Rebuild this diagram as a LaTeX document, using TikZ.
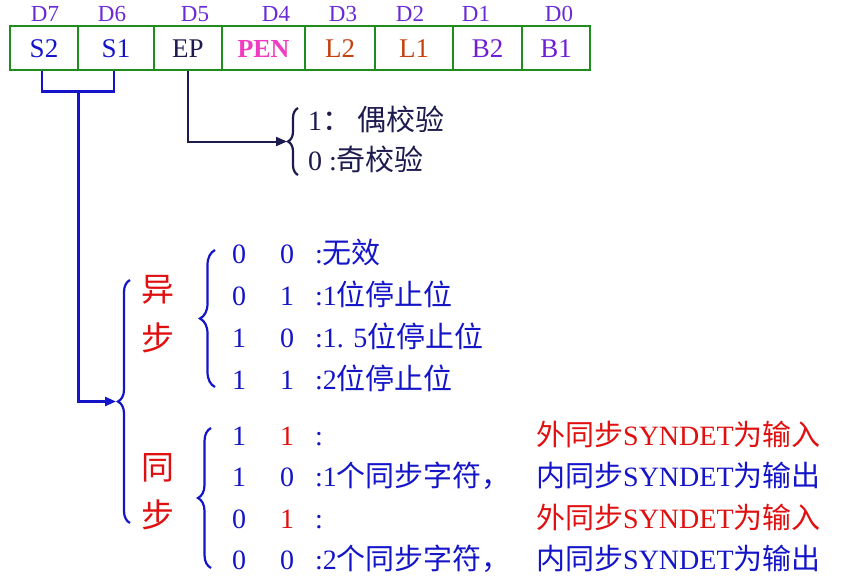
\documentclass[tikz,border=0pt]{standalone}
\usepackage{fontspec}
\setmainfont{Liberation Serif}
\newfontfamily\cjk{Noto Sans CJK SC}
\usepackage{tikz}
\usetikzlibrary{arrows.meta, decorations.pathreplacing, calc}
\definecolor{reggreen}{HTML}{1E8C1E}
\definecolor{bitviolet}{HTML}{6A2BD6}
\definecolor{selblue}{HTML}{1414C8}
\definecolor{epnavy}{HTML}{1C1A4E}
\definecolor{penpink}{HTML}{F03CC0}
\definecolor{lenbrown}{HTML}{C2410F}
\definecolor{baudviolet}{HTML}{6E1ED4}
\definecolor{modered}{HTML}{E01010}
\newcommand{\zh}[1]{{\cjk\fontsize{29}{32}\selectfont #1}}

\begin{document}
\begin{tikzpicture}[x=1pt, y=-1pt, font=\fontsize{28}{32}\selectfont,
    cell/.style={rectangle, draw=reggreen, line width=2.8pt, minimum height=44pt, inner sep=0pt, text height=18pt, text depth=0pt, font=\fontsize{27}{30}\selectfont},
    bitlbl/.style={anchor=base, inner sep=0pt, text=bitviolet, font=\fontsize{23}{26}\selectfont},
    row/.style={anchor=base west, inner sep=0pt},
    modelbl/.style={inner sep=0pt, text=modered, font=\cjk\fontsize{33}{36}\selectfont},
    curly/.style={decorate, line width=2.2pt, decoration={brace, amplitude=#1}},
    curly/.default=12pt,
    conn/.style={line width=2.5pt, -{Triangle[length=11pt, width=9pt]}}]
    \useasboundingbox (0,0) rectangle (851,584);

    % Register bits
    \node[bitlbl] (d7) at (45,21) {D7};
    \node[bitlbl] (d6) at (112,21) {D6};
    \node[bitlbl] (d5) at (195,21) {D5};
    \node[bitlbl] (d4) at (276,21) {D4};
    \node[bitlbl] (d3) at (343,21) {D3};
    \node[bitlbl] (d2) at (410,21) {D2};
    \node[bitlbl] (d1) at (476,21) {D1};
    \node[bitlbl] (d0) at (559,21) {D0};

    \node[cell, minimum width=68pt, text=selblue] (s2) at (44,48) {S2};
    \node[cell, minimum width=76pt, text=selblue] (s1) at (116,48) {S1};
    \node[cell, minimum width=68pt, text=epnavy] (ep) at (188,48) {EP};
    \node[cell, minimum width=83pt, text=penpink, font=\fontsize{26}{30}\selectfont\bfseries] (pen) at (263.5,48) {PEN};
    \node[cell, minimum width=70pt, text=lenbrown] (l2) at (340,48) {L2};
    \node[cell, minimum width=78pt, text=lenbrown] (l1) at (414,48) {L1};
    \node[cell, minimum width=69pt, text=baudviolet] (b2) at (487.5,48) {B2};
    \node[cell, minimum width=68pt, text=baudviolet] (b1) at (556,48) {B1};

    % Parity
    \draw[curly=10pt, epnavy] (298,175) -- (298,108);
    \coordinate (ptip) at (287,141.5);
    \draw[conn, epnavy, line width=2pt] (ep.south) |- (ptip);
    \node[row, text=epnavy] (even) at (308,130) {1\zh{： 偶校验}};
    \node[row, text=epnavy] (odd) at (308,170) {0 :\zh{奇校验}};

    % Stop bits / sync select
    \draw[selblue, line width=2.5pt] ($(s2.south)+(-2,0)$) -- ++(0,20) -| ($(s1.south)+(-2,0)$);
    \coordinate (sjoin) at ($(s2.south east)+(-1,20)$);
    \coordinate (otip) at (116,401.5);
    \draw[conn, selblue] (sjoin) |- (otip);
    \draw[curly=12pt, selblue] (130,523) -- (130,280);

    \node[modelbl] (yi) at (158,290) {异};
    \node[modelbl] (bu1) at (158,338) {步};
    \node[modelbl] (tong) at (158,468) {同};
    \node[modelbl] (bu2) at (158,515) {步};

    % Async
    \draw[curly=15pt, selblue] (215,387) -- (215,250);
    \node[row, text=selblue] (as00) at (232,263) {\makebox[48pt][l]{0}\makebox[35pt][l]{0}:\zh{无效}};
    \node[row, text=selblue] (as01) at (232,305) {\makebox[48pt][l]{0}\makebox[35pt][l]{1}:1\zh{位停止位}};
    \node[row, text=selblue] (as10) at (232,347) {\makebox[48pt][l]{1}\makebox[35pt][l]{0}:1. 5\zh{位停止位}};
    \node[row, text=selblue] (as11) at (232,389) {\makebox[48pt][l]{1}\makebox[35pt][l]{1}:2\zh{位停止位}};

    % Sync
    \draw[curly=13pt, selblue] (211,568) -- (211,428);
    \node[row, text=selblue] (sy11) at (232,445) {\makebox[48pt][l]{1}\makebox[35pt][l]{\textcolor{modered}{1}}:};
    \node[row, text=modered] (ext1) at (536,445) {\zh{外同步}SYNDET\zh{为输入}};
    \node[row, text=selblue] (sy10) at (232,486) {\makebox[48pt][l]{1}\makebox[35pt][l]{0}:1\zh{个同步字符，}};
    \node[row, text=selblue] (int1) at (536,486) {\zh{内同步}SYNDET\zh{为输出}};
    \node[row, text=selblue] (sy01) at (232,528) {\makebox[48pt][l]{0}\makebox[35pt][l]{\textcolor{modered}{1}}:};
    \node[row, text=modered] (ext2) at (536,528) {\zh{外同步}SYNDET\zh{为输入}};
    \node[row, text=selblue] (sy00) at (232,569) {\makebox[48pt][l]{0}\makebox[35pt][l]{0}:2\zh{个同步字符，}};
    \node[row, text=selblue] (int2) at (536,569) {\zh{内同步}SYNDET\zh{为输出}};
\end{tikzpicture}
\end{document}
